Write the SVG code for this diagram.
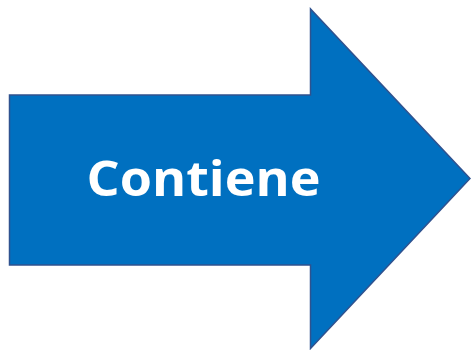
<svg xmlns="http://www.w3.org/2000/svg" width="471" height="350" viewBox="0 0 471 350">
<style>
.arrow{fill:#0070C0;stroke:#2F528F;stroke-width:1.5}
.lbl{font-family:"Open Sans","Liberation Sans",sans-serif;font-weight:bold;font-size:48px;fill:#FFFFFF}
</style>
<rect width="471" height="350" fill="#FFFFFF"/>
<g id="arrow">
<polygon class="arrow" points="9.5,95 310.5,95 310.5,9 470,178.5 310.5,348.5 310.5,265 9.5,265"/>
<text class="lbl" x="203.5" y="196" text-anchor="middle" textLength="234" lengthAdjust="spacingAndGlyphs">Contiene</text>
</g>
<g id="connectors"/>
</svg>
